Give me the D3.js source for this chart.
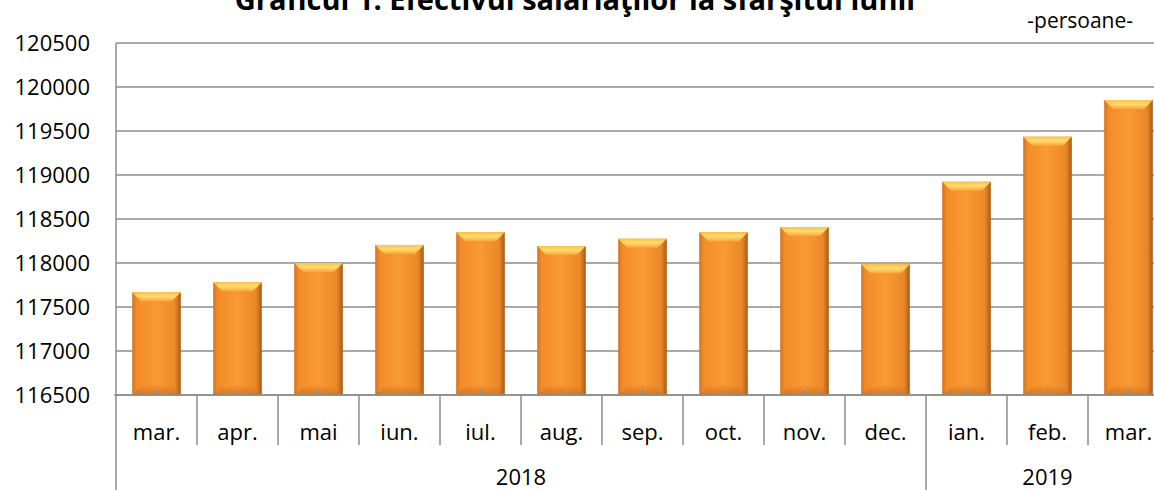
<!DOCTYPE html>
<html>
<head>
<meta charset="utf-8">
<script src="https://cdn.jsdelivr.net/npm/d3@7"></script>
<style>
  body { margin: 0; background: #fff; overflow: hidden; }
  svg { display: block; font-family: "Open Sans", sans-serif; }
</style>
</head>
<body>
<svg width="1154" height="490"></svg>
<script>
// date
var luni = ["mar.", "apr.", "mai", "iun.", "iul.", "aug.", "sep.", "oct.", "nov.", "dec.", "ian.", "feb.", "mar."];
var valori = [117667, 117780, 118000, 118205, 118349, 118193, 118276, 118349, 118409, 117985, 118924, 119435, 119852];
var ani = ["2018", "2019"];
var aniStart = [0, 10];
var aniEnd = [10, 13];
var yTicks = [116500, 117000, 117500, 118000, 118500, 119000, 119500, 120000, 120500];

var svg = d3.select("svg");
var plotLeft = 116, plotTop = 43, plotBottom = 395, step = 81;
var plotRight = plotLeft + step * luni.length;
var gridColor = "#8c8c8c";

var x = d3.scaleBand()
    .domain(d3.range(luni.length))
    .range([plotLeft, plotRight])
    .paddingInner(0.4)
    .paddingOuter(0.2);

var y = d3.scaleLinear()
    .domain([116500, 120500])
    .range([plotBottom, plotTop]);

// gradiente pentru bare
var defs = svg.append("defs");
var g1 = defs.append("linearGradient").attr("id", "corp").attr("x1", 0).attr("x2", 1).attr("y1", 0).attr("y2", 0);
g1.append("stop").attr("offset", "0%").attr("stop-color", "#d2731d");
g1.append("stop").attr("offset", "9%").attr("stop-color", "#f28c28");
g1.append("stop").attr("offset", "50%").attr("stop-color", "#fa9a32");
g1.append("stop").attr("offset", "88%").attr("stop-color", "#ea8829");
g1.append("stop").attr("offset", "100%").attr("stop-color", "#a85a17");
var g2 = defs.append("linearGradient").attr("id", "sus").attr("x1", 0).attr("x2", 0).attr("y1", 0).attr("y2", 1);
g2.append("stop").attr("offset", "0%").attr("stop-color", "#ffbf48");
g2.append("stop").attr("offset", "45%").attr("stop-color", "#ffdc70");
g2.append("stop").attr("offset", "100%").attr("stop-color", "#fba43b");
var g3 = defs.append("linearGradient").attr("id", "jos").attr("x1", 0).attr("x2", 0).attr("y1", 0).attr("y2", 1);
g3.append("stop").attr("offset", "0%").attr("stop-color", "#ee8a2c");
g3.append("stop").attr("offset", "100%").attr("stop-color", "#c06a1e");

// linii de grila
svg.append("g")
    .selectAll("line")
    .data(yTicks)
    .enter()
    .append("line")
    .attr("x1", plotLeft)
    .attr("x2", plotRight)
    .attr("y1", function (d) { return y(d); })
    .attr("y2", function (d) { return y(d); })
    .attr("stroke", gridColor)
    .attr("stroke-width", 1.5);

// axa Y
var yAxis = d3.axisLeft(y).tickValues(yTicks).tickSize(0).tickPadding(26).tickFormat(d3.format("d"));
svg.append("g")
    .attr("transform", "translate(" + plotLeft + ",0)")
    .call(yAxis)
    .call(function (g) { g.select(".domain").remove(); })
    .selectAll("text")
    .attr("font-family", "Open Sans")
    .attr("font-size", "22px")
    .attr("fill", "#000");

// bare
var b = 9;
var bare = svg.append("g").selectAll("g")
    .data(valori)
    .enter()
    .append("g");

bare.append("rect")
    .attr("x", function (d, i) { return x(i); })
    .attr("y", function (d) { return y(d); })
    .attr("width", x.bandwidth())
    .attr("height", function (d) { return plotBottom - y(d); })
    .attr("fill", "url(#corp)");

bare.append("path")
    .attr("d", function (d, i) {
        var x0 = x(i), x1 = x(i) + x.bandwidth(), y0 = y(d);
        return "M" + x0 + "," + y0 + "L" + x1 + "," + y0 + "L" + (x1 - b) + "," + (y0 + b) + "L" + (x0 + b) + "," + (y0 + b) + "Z";
    })
    .attr("fill", "url(#sus)");

bare.append("path")
    .attr("d", function (d, i) {
        var x0 = x(i), x1 = x(i) + x.bandwidth(), y0 = plotBottom;
        return "M" + x0 + "," + y0 + "L" + x1 + "," + y0 + "L" + (x1 - b) + "," + (y0 - b) + "L" + (x0 + b) + "," + (y0 - b) + "Z";
    })
    .attr("fill", "url(#jos)")
    .attr("opacity", 0.6);

// marcaje mici pe axa X
svg.append("g").selectAll("line")
    .data(valori)
    .enter()
    .append("line")
    .attr("x1", function (d, i) { return x(i) + x.bandwidth() / 2; })
    .attr("x2", function (d, i) { return x(i) + x.bandwidth() / 2; })
    .attr("y1", plotBottom)
    .attr("y2", plotBottom - 5)
    .attr("stroke", gridColor)
    .attr("stroke-width", 1.5);

// axa X si separatoare
svg.append("line")
    .attr("x1", plotLeft - 2).attr("x2", plotRight)
    .attr("y1", plotBottom).attr("y2", plotBottom)
    .attr("stroke", gridColor).attr("stroke-width", 1.5);

svg.append("line")
    .attr("x1", plotLeft).attr("x2", plotLeft)
    .attr("y1", plotTop).attr("y2", 490)
    .attr("stroke", gridColor).attr("stroke-width", 1.5);

svg.append("g").selectAll("line")
    .data(d3.range(1, luni.length))
    .enter()
    .append("line")
    .attr("x1", function (i) { return x(i) - x.step() * x.paddingInner() / 2; })
    .attr("x2", function (i) { return x(i) - x.step() * x.paddingInner() / 2; })
    .attr("y1", plotBottom)
    .attr("y2", function (i) { return aniStart.indexOf(i) >= 0 ? 490 : 445; })
    .attr("stroke", gridColor)
    .attr("stroke-width", 1.5);

svg.append("g").selectAll("text")
    .data(luni)
    .enter()
    .append("text")
    .attr("x", function (d, i) { return x(i) + x.bandwidth() / 2; })
    .attr("y", 440)
    .attr("text-anchor", "middle")
    .attr("font-size", "22px")
    .text(function (d) { return d; });

svg.append("g").selectAll("text")
    .data(ani)
    .enter()
    .append("text")
    .attr("x", function (d, i) {
        var a = x(aniStart[i]) - x.step() * x.paddingOuter();
        var e = x(aniEnd[i] - 1) + x.bandwidth() + x.step() * x.paddingOuter();
        return (a + e) / 2;
    })
    .attr("y", 485)
    .attr("text-anchor", "middle")
    .attr("font-size", "22px")
    .text(function (d) { return d; });

// titlu
svg.append("text")
    .attr("x", 575)
    .attr("y", 10)
    .attr("text-anchor", "middle")
    .attr("font-size", "29px")
    .attr("font-weight", "bold")
    .text("Graficul 1.  Efectivul salariaţilor la sfârşitul lunii");

svg.append("text")
    .attr("x", 1133)
    .attr("y", 28)
    .attr("text-anchor", "end")
    .attr("font-size", "21px")
    .text("-persoane-");
</script>
</body>
</html>
